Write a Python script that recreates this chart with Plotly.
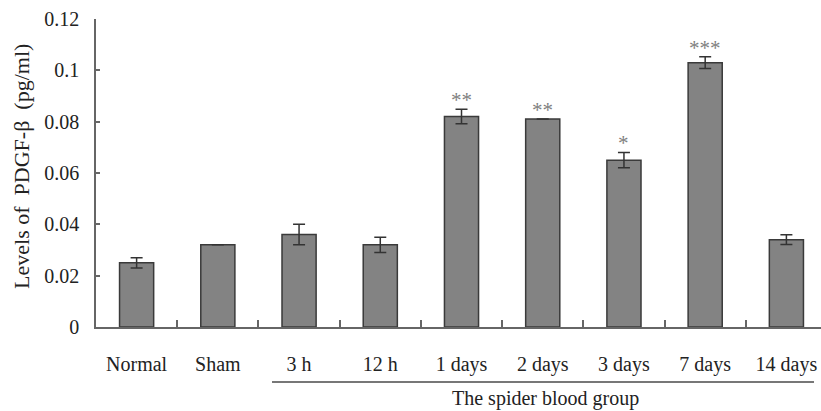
import plotly.graph_objects as go

categories = ["Normal", "Sham", "3 h", "12 h", "1 days", "2 days", "3 days", "7 days", "14 days"]
values = [0.025, 0.032, 0.036, 0.032, 0.082, 0.081, 0.065, 0.103, 0.034]
errors = [0.002, 0.0, 0.004, 0.003, 0.0028, 0.0, 0.003, 0.0023, 0.0019]
significance = ["", "", "", "", "**", "**", "*", "***", ""]
y_ticks = [0, 0.02, 0.04, 0.06, 0.08, 0.1, 0.12]
y_tick_labels = ["0", "0.02", "0.04", "0.06", "0.08", "0.1", "0.12"]
group_label = "The spider blood group"
y_title = "Levels of  PDGF-β  (pg/ml)"

FONT = "Liberation Serif"
TXT = "#222222"

fig = go.Figure()
fig.add_trace(go.Bar(
    x=categories, y=values,
    width=0.42,
    marker=dict(color="#838383", line=dict(color="#3a3a3a", width=1.5)),
    error_y=dict(type="data", array=errors, visible=True, color="#333333", thickness=1.5, width=6),
))

for cat, v, e, s in zip(categories, values, errors, significance):
    if s:
        fig.add_annotation(x=cat, y=v + e, text=s, showarrow=False, yanchor="bottom",
                           yshift=-5, font=dict(family=FONT, size=21, color="#808080"))

# group bracket
fig.add_shape(type="line", xref="x", yref="paper", x0=1.667, x1=8.34, y0=-0.1786, y1=-0.1786,
              line=dict(color="#777777", width=2))
fig.add_annotation(xref="x", yref="paper", x=5.028, y=-0.232, text=group_label, showarrow=False,
                   xanchor="center", yanchor="middle", font=dict(family=FONT, size=20, color=TXT))
fig.add_annotation(xref="paper", yref="paper", x=-0.102, y=0.52, text=y_title, showarrow=False,
                   textangle=-90, xanchor="center", yanchor="middle",
                   font=dict(family=FONT, size=22, color=TXT))

fig.update_layout(
    width=821, height=411,
    margin=dict(l=96, r=0, t=19, b=84),
    paper_bgcolor="white", plot_bgcolor="white",
    showlegend=False,
    font=dict(family=FONT, size=20, color=TXT),
    bargap=0.58,
)
fig.update_xaxes(
    type="category", range=[-0.5, 8.426],
    showline=True, linecolor="#666666", linewidth=1.5,
    ticks="inside", tickson="boundaries", ticklen=7, tickcolor="#666666", tickwidth=1.5,
    showgrid=False, zeroline=False,
    ticklabelstandoff=18,
    tickfont=dict(family=FONT, size=20, color=TXT),
)
fig.update_yaxes(
    range=[0, 0.12],
    tickmode="array", tickvals=y_ticks, ticktext=y_tick_labels,
    showline=True, linecolor="#666666", linewidth=1.5,
    ticks="inside", ticklen=4, tickcolor="#666666", tickwidth=1.5,
    showgrid=False, zeroline=False,
    ticklabelstandoff=11,
    tickfont=dict(family=FONT, size=20, color=TXT),
)

fig.write_html(
    "out.html",
    config={"displayModeBar": False},
    post_script="document.body.style.margin='0';document.body.style.padding='0';document.body.style.overflow='hidden';",
)
